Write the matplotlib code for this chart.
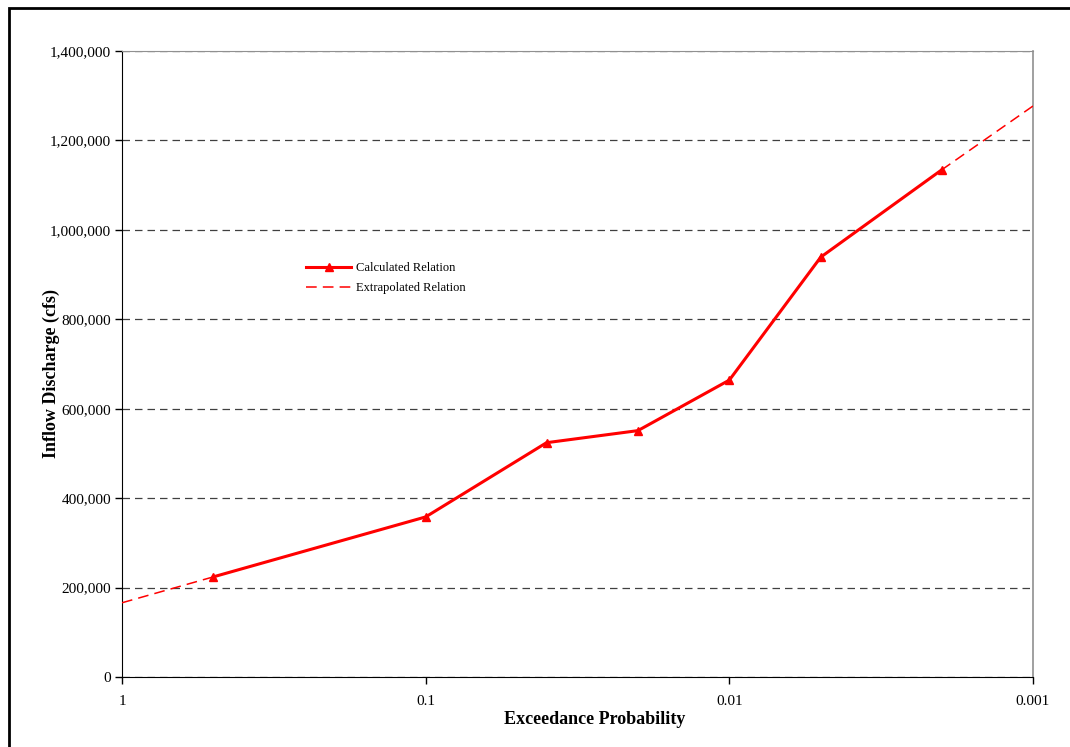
import matplotlib.pyplot as plt
import matplotlib.ticker as mticker
import numpy as np

# data
prob = [0.5, 0.1, 0.04, 0.02, 0.01, 0.005, 0.002]
flow = [224000, 358000, 524000, 551000, 664000, 939000, 1134000]

# extrapolated ends
extra_lo_prob = [1, 0.5]
extra_lo_flow = [166000, 224000]
extra_hi_prob = [0.002, 0.001]
extra_hi_flow = [1134000, 1277000]

x_ticks = [1, 0.1, 0.01, 0.001]
x_tick_labels = ["1", "0.1", "0.01", "0.001"]
y_ticks = np.arange(0, 1400001, 200000)

plt.rcParams["font.family"] = ["Liberation Serif", "DejaVu Serif"]

fig = plt.figure(figsize=(10.7, 7.47), dpi=100)
ax = fig.add_axes([122 / 1070, 70 / 747, 911 / 1070, 626 / 747])

# outer frame of the chart
fig.patches.append(plt.Rectangle((9 / 1070, -0.1), 1.2, (747 - 8) / 747 + 0.1,
                                 transform=fig.transFigure, fill=False,
                                 edgecolor="black", linewidth=2))

# extrapolated relation (thin dashed)
ax.plot(extra_lo_prob, extra_lo_flow, color="red", linewidth=1.1,
        dashes=(7, 4), label="Extrapolated Relation", zorder=3)
ax.plot(extra_hi_prob, extra_hi_flow, color="red", linewidth=1.1,
        dashes=(7, 4), zorder=3)

# calculated relation
ax.plot(prob, flow, color="red", linewidth=2.2, marker="^", markersize=5.5,
        label="Calculated Relation", zorder=4)

ax.set_xscale("log")
ax.set_xlim(1, 0.001)
ax.set_ylim(0, 1400000)
ax.set_xticks(x_ticks)
ax.set_xticklabels(x_tick_labels)
ax.xaxis.set_minor_locator(mticker.NullLocator())
ax.set_yticks(y_ticks)
ax.yaxis.set_major_formatter(mticker.FuncFormatter(lambda v, p: f"{int(v):,}"))

ax.tick_params(axis="both", labelsize=11, length=5, width=1, direction="out",
               colors="black")
ax.tick_params(axis="x", pad=8)
ax.tick_params(axis="y", pad=3)

ax.grid(axis="y", color="#404040", linestyle=(0, (6, 4)), linewidth=0.9)
ax.set_axisbelow(True)

ax.spines["left"].set_color("black")
ax.spines["bottom"].set_color("black")
ax.spines["right"].set_color("#909090")
ax.spines["top"].set_color("#909090")
ax.spines["right"].set_linewidth(1.2)

ax.set_xlabel("Exceedance Probability", fontsize=13, fontweight="bold")
ax.set_ylabel("Inflow Discharge (cfs)", fontsize=13, fontweight="bold")
ax.xaxis.set_label_coords((595 - 122) / 911, (677 - 711) / 626)
ax.yaxis.set_label_coords((60 - 122) / 911, (677 - 373) / 626)

handles, labels = ax.get_legend_handles_labels()
ax.legend(handles[::-1], labels[::-1], loc="upper left",
          bbox_to_anchor=((306 - 122) / 911, (677 - 262) / 626),
          frameon=False, fontsize=9, handlelength=3.6, handletextpad=0.4,
          labelspacing=0.68, borderpad=0, borderaxespad=0)

fig.savefig("out.png", dpi=100)
